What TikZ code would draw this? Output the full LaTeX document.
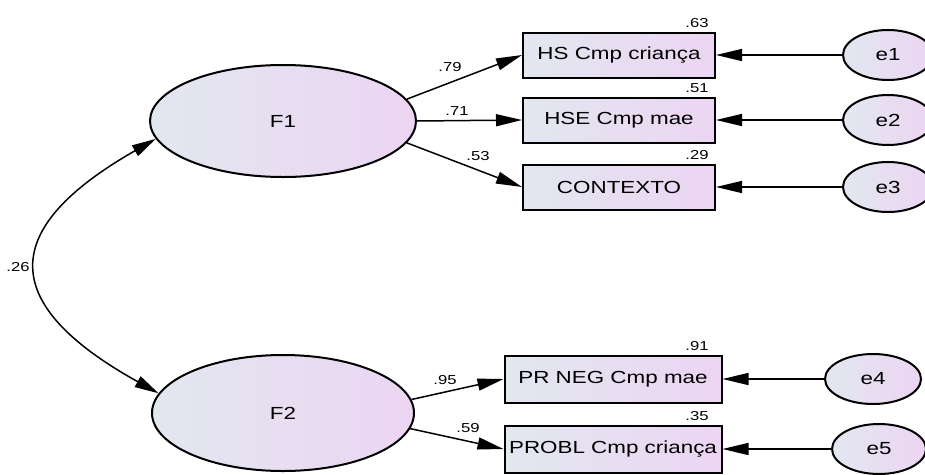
\documentclass[tikz,border=0pt]{standalone}
\usepackage{fontspec}
\setmainfont{Liberation Sans}[FakeStretch=1.28]
\usetikzlibrary{shapes.geometric,arrows.meta}
\definecolor{fillL}{RGB}{226,231,240}
\definecolor{fillR}{RGB}{236,213,242}
\begin{document}
\begin{tikzpicture}[x=1pt,y=-1pt,
	lat/.style={ellipse,draw,line width=2pt,left color=fillL,right color=fillR,inner sep=0pt,font=\fontsize{17.5}{19}\selectfont},
	obs/.style={rectangle,draw,line width=2pt,left color=fillL,right color=fillR,inner sep=0pt,font=\fontsize{17.5}{19}\selectfont},
	lbl/.style={font=\fontsize{13}{15}\selectfont,inner sep=0pt},
	path/.style={line width=1.5pt,-{Triangle[length=26pt,width=12pt]}}]
				\useasboundingbox (0,0) rectangle (925,474);
				% factors
				\node[lat,minimum width=266pt,minimum height=112pt] (F1) at (283,121) {F1};
				\node[lat,minimum width=262pt,minimum height=116pt] (F2) at (283,413) {F2};
				% observed variables
				\foreach \i/\y/\t/\r in {1/55/{HS Cmp criança}/.63,2/120/{HSE Cmp mae}/.51,3/187/CONTEXTO/.29}
				\node[obs,minimum width=192pt,minimum height=45pt] (v\i) at (619,\y) {\t} (697,\y-32) node[lbl]{\r};
				\foreach \i/\y/\t/\r in {4/379/{PR NEG Cmp mae}/.91,5/449/{PROBL Cmp criança}/.35}
				\node[obs,minimum width=217pt,minimum height=47pt] (v\i) at (613,\y) {\t} (697,\y-33) node[lbl]{\r};
				% errors
				\foreach \i/\x/\y/\w in {1/888/55/90,2/888/120/90,3/888/187/90,4/873/379/96,5/879/449/94}{
				\node[lat,minimum width=\w pt,minimum height=50pt] (e\i) at (\x,\y) {e\i};
				\draw[path] (e\i) -- (v\i);}
				% loadings
				\draw[path] (F1.10) -- (v1.west);
				\draw[path] (F1.east) -- (v2.west);
				\draw[path] (F1.-10) -- (v3.west);
				\draw[path] (F2.6) -- (v4.west);
				\draw[path] (F2.-7) -- (v5.west);
				\foreach \x/\y/\r in {450/67/.79,457/111/.71,478/156/.53,445/380/.95,468/428/.59,18/267/.26}
				\node[lbl] at (\x,\y) {\r};
				% covariance
				\draw[line width=1.5pt,{Triangle[length=24pt,width=12pt]}-{Triangle[length=24pt,width=12pt]}] (F1.188) .. controls (-2,229) and (-2,304) .. (F2.171);
			\end{tikzpicture}
\end{document}
